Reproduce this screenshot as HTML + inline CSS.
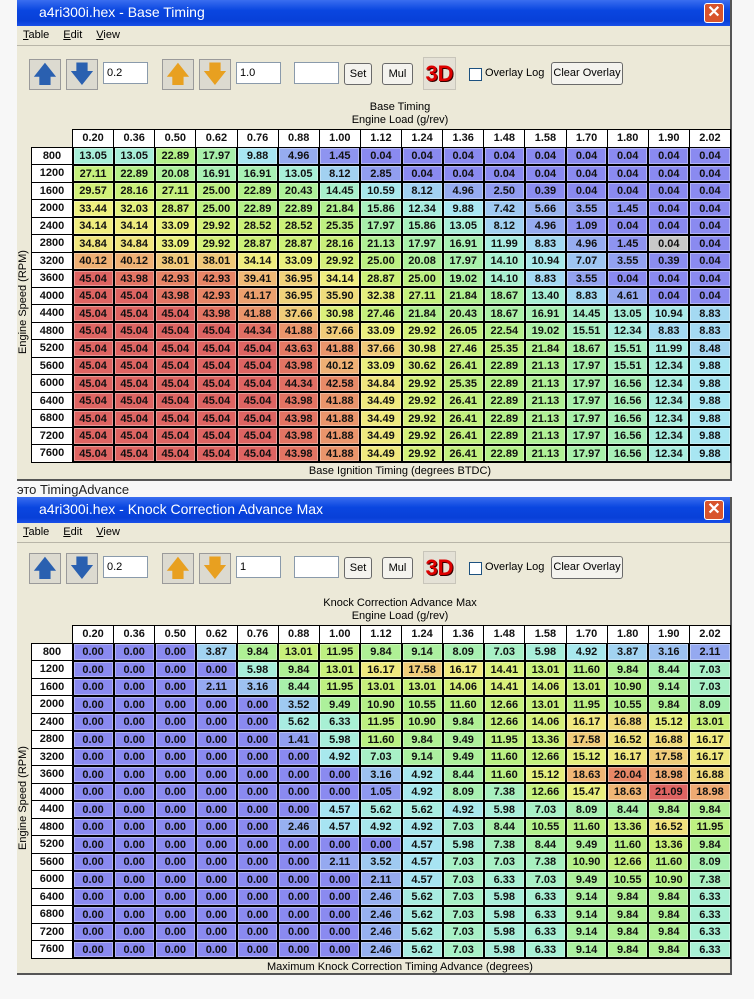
<!DOCTYPE html>
<html><head><meta charset="utf-8">
<style>
*{margin:0;padding:0;box-sizing:border-box}
body{width:754px;height:999px;background:#f7f7f7;position:relative;overflow:hidden;font-family:"Liberation Sans",Tahoma,sans-serif}
.win{position:absolute;left:17px;width:715px;background:#ece9d8;border-right:2px solid #555;border-bottom:2px solid #555}
.title{position:absolute;left:0;top:0;width:100%;height:26px;background:linear-gradient(#3a6ef0,#0a46e0 40%,#0840d8 80%,#1a50e8);color:#fff;font-size:14px;padding:4px 0 0 22px}
.close{position:absolute;right:6px;top:3px;width:20px;height:20px;border:1px solid #fff;border-radius:3px;background:#d8542c;color:#fff;font-size:16px;line-height:17px;text-align:center;font-weight:bold}
.menu{position:absolute;left:0;top:26px;width:100%;height:20px;border-bottom:1px solid #b8b5a8;font-size:11px;padding:3px 0 0 6px}
.menu span{margin-right:14px}
.a{position:absolute;width:32px;height:31px;border:1px solid #9a9a9a;background:#dcdad0;font-size:24px;text-align:center;line-height:29px}
.inp{position:absolute;width:45px;height:22px;background:#fff;border:1px solid #8a9aab;font-size:11px;padding:4px 3px}
.btn{position:absolute;height:22px;border:1px solid #6a6a6a;border-radius:3px;background:#f4f3ee;font-size:11px;text-align:center;line-height:20px}
.t3d{position:absolute;width:33px;height:33px;background:#e4e1d6;border:1px solid #c8c5ba;color:#d00;font-weight:bold;font-size:22px;text-align:center;line-height:32px;text-shadow:1px 1px 0 #300}
.lbl{position:absolute;font-size:11px;color:#000;white-space:nowrap}
.c{position:absolute;border:1px solid #000;font-weight:bold;font-size:11px;text-align:center;color:#111;line-height:15px}
.vl{position:absolute;font-size:11px;transform:rotate(-90deg);transform-origin:center;white-space:nowrap}
</style></head><body>
<div class="win" style="top:0;height:481px">
 <div class="title">a4ri300i.hex - Base Timing<div class="close">✕</div></div>
 <div class="menu"><span><u>T</u>able</span><span><u>E</u>dit</span><span><u>V</u>iew</span></div>
</div>
<div class="lbl" style="left:17px;top:482px;font-size:13px;color:#222">это TimingAdvance</div>
<div class="win" style="top:497px;height:478px">
 <div class="title">a4ri300i.hex - Knock Correction Advance Max<div class="close">✕</div></div>
 <div class="menu"><span><u>T</u>able</span><span><u>E</u>dit</span><span><u>V</u>iew</span></div>
</div>
<div id="root"></div>
<script>
const cols=["0.20","0.36","0.50","0.62","0.76","0.88","1.00","1.12","1.24","1.36","1.48","1.58","1.70","1.80","1.90","2.02"];
const rpm=[800,1200,1600,2000,2400,2800,3200,3600,4000,4400,4800,5200,5600,6000,6400,6800,7200,7600];
const r64="45.04 45.04 45.04 45.04 45.04 43.98 41.88 34.49 29.92 26.41 22.89 21.13 17.97 16.56 12.34 9.88";
const t1=["13.05 13.05 22.89 17.97 9.88 4.96 1.45 0.04 0.04 0.04 0.04 0.04 0.04 0.04 0.04 0.04",
"27.11 22.89 20.08 16.91 16.91 13.05 8.12 2.85 0.04 0.04 0.04 0.04 0.04 0.04 0.04 0.04",
"29.57 28.16 27.11 25.00 22.89 20.43 14.45 10.59 8.12 4.96 2.50 0.39 0.04 0.04 0.04 0.04",
"33.44 32.03 28.87 25.00 22.89 22.89 21.84 15.86 12.34 9.88 7.42 5.66 3.55 1.45 0.04 0.04",
"34.14 34.14 33.09 29.92 28.52 28.52 25.35 17.97 15.86 13.05 8.12 4.96 1.09 0.04 0.04 0.04",
"34.84 34.84 33.09 29.92 28.87 28.87 28.16 21.13 17.97 16.91 11.99 8.83 4.96 1.45 0.04 0.04",
"40.12 40.12 38.01 38.01 34.14 33.09 29.92 25.00 20.08 17.97 14.10 10.94 7.07 3.55 0.39 0.04",
"45.04 43.98 42.93 42.93 39.41 36.95 34.14 28.87 25.00 19.02 14.10 8.83 3.55 0.04 0.04 0.04",
"45.04 45.04 43.98 42.93 41.17 36.95 35.90 32.38 27.11 21.84 18.67 13.40 8.83 4.61 0.04 0.04",
"45.04 45.04 45.04 43.98 41.88 37.66 30.98 27.46 21.84 20.43 18.67 16.91 14.45 13.05 10.94 8.83",
"45.04 45.04 45.04 45.04 44.34 41.88 37.66 33.09 29.92 26.05 22.54 19.02 15.51 12.34 8.83 8.83",
"45.04 45.04 45.04 45.04 45.04 43.63 41.88 37.66 30.98 27.46 25.35 21.84 18.67 15.51 11.99 8.48",
"45.04 45.04 45.04 45.04 45.04 43.98 40.12 33.09 30.62 26.41 22.89 21.13 17.97 15.51 12.34 9.88",
"45.04 45.04 45.04 45.04 45.04 44.34 42.58 34.84 29.92 25.35 22.89 21.13 17.97 16.56 12.34 9.88",
r64,r64,r64,r64];
const z="0.00 0.00 0.00 0.00 0.00 0.00 ";
const r2="0.00 2.46 5.62 7.03 5.98 6.33 9.14 9.84 9.84 6.33";
const t2=["0.00 0.00 0.00 3.87 9.84 13.01 11.95 9.84 9.14 8.09 7.03 5.98 4.92 3.87 3.16 2.11",
"0.00 0.00 0.00 0.00 5.98 9.84 13.01 16.17 17.58 16.17 14.41 13.01 11.60 9.84 8.44 7.03",
"0.00 0.00 0.00 2.11 3.16 8.44 11.95 13.01 13.01 14.06 14.41 14.06 13.01 10.90 9.14 7.03",
"0.00 0.00 0.00 0.00 0.00 3.52 9.49 10.90 10.55 11.60 12.66 13.01 11.95 10.55 9.84 8.09",
"0.00 0.00 0.00 0.00 0.00 5.62 6.33 11.95 10.90 9.84 12.66 14.06 16.17 16.88 15.12 13.01",
"0.00 0.00 0.00 0.00 0.00 1.41 5.98 11.60 9.84 9.49 11.95 13.36 17.58 16.52 16.88 16.17",
z+"4.92 7.03 9.14 9.49 11.60 12.66 15.12 16.17 17.58 16.17",
z+"0.00 3.16 4.92 8.44 11.60 15.12 18.63 20.04 18.98 16.88",
z+"0.00 1.05 4.92 8.09 7.38 12.66 15.47 18.63 21.09 18.98",
z+"4.57 5.62 5.62 4.92 5.98 7.03 8.09 8.44 9.84 9.84",
"0.00 0.00 0.00 0.00 0.00 2.46 4.57 4.92 4.92 7.03 8.44 10.55 11.60 13.36 16.52 11.95",
z+"0.00 0.00 4.57 5.98 7.38 8.44 9.49 11.60 13.36 9.84",
z+"2.11 3.52 4.57 7.03 7.03 7.38 10.90 12.66 11.60 8.09",
z+"0.00 2.11 4.57 7.03 6.33 7.03 9.49 10.55 10.90 7.38",
z+r2,z+r2,z+r2,z+r2];
const stops=[[0,[138,138,240]],[0.11,[150,172,240]],[0.22,[168,230,242]],[0.3,[168,240,212]],[0.4,[168,240,170]],[0.51,[180,240,136]],[0.64,[204,240,120]],[0.75,[240,240,128]],[0.88,[240,184,118]],[0.96,[230,128,100]],[1,[222,100,98]]];
function col(t){for(let i=1;i<stops.length;i++){if(t<=stops[i][0]){const a=stops[i-1],b=stops[i],f=(t-a[0])/(b[0]-a[0]);return `rgb(${a[1].map((v,k)=>Math.round(v+(b[1][k]-v)*f)).join(",")})`;}}return "rgb(222,100,98)";}
let h="";
function tb(oy,data,max,cap,foot){
 const W=41.125,H=17.5,x0=72,L=31;
 h+=`<div class="lbl" style="left:0;width:800px;text-align:center;top:${oy-28}px">${cap}</div>`;
 h+=`<div class="lbl" style="left:0;width:800px;text-align:center;top:${oy-15}px">Engine Load (g/rev)</div>`;
 h+=`<div style="position:absolute;left:${x0}px;top:${oy}px;width:${16*W+1}px;height:${H+1}px;background:#000"></div>`;
 h+=`<div style="position:absolute;left:${L}px;top:${oy+H}px;width:${x0-L+16*W+1}px;height:${18*H+1}px;background:#000"></div>`;
 cols.forEach((c,i)=>{h+=`<div class="c" style="left:${x0+i*W+1}px;top:${oy+1}px;width:${W-1}px;height:${H-1}px;background:#fff;border-color:#fff">${c}</div>`});
 rpm.forEach((r,j)=>{const y=oy+H*(j+1);
  h+=`<div class="c" style="left:${L+1}px;top:${y+1}px;width:${x0-L-1}px;height:${H-1}px;background:#fff;border-color:#fff">${r}</div>`;
  data[j].split(" ").forEach((v,i)=>{let bg=col(parseFloat(v)/max);if(max>40&&j==5&&i==14)bg="#c8c8c8";
   h+=`<div class="c" style="left:${x0+i*W+1.5}px;top:${y+1.5}px;width:${W-2}px;height:${H-2}px;background:${bg};border-color:rgba(255,255,255,.35)">${v}</div>`;});
 });
 h+=`<div class="vl" style="left:-32px;top:${oy+H*10-8}px;width:110px;text-align:center">Engine Speed (RPM)</div>`;
 h+=`<div class="lbl" style="left:0;width:800px;text-align:center;top:${oy+19*H+3}px">${foot}</div>`;
}
function toolbar(y,v2){
 h+=`<div class="a" style="left:29px;top:${y}px;color:#2a60b0">🡅</div><div class="a" style="left:66px;top:${y}px;color:#2a60b0">🡇</div>`;
 h+=`<div class="inp" style="left:103px;top:${y+3}px">0.2</div>`;
 h+=`<div class="a" style="left:162px;top:${y}px;color:#e8a020">🡅</div><div class="a" style="left:199px;top:${y}px;color:#e8a020">🡇</div>`;
 h+=`<div class="inp" style="left:236px;top:${y+3}px">${v2}</div><div class="inp" style="left:294px;top:${y+3}px"></div>`;
 h+=`<div class="btn" style="left:344px;top:${y+4}px;width:28px">Set</div><div class="btn" style="left:382px;top:${y+4}px;width:31px">Mul</div>`;
 h+=`<div class="t3d" style="left:423px;top:${y-2}px">3D</div>`;
 h+=`<div style="position:absolute;left:469px;top:${y+9}px;width:13px;height:13px;background:#fff;border:1px solid #1c5180"></div><div class="lbl" style="left:485px;top:${y+8}px">Overlay Log</div>`;
 h+=`<div class="btn" style="left:551px;top:${y+3}px;width:72px;height:23px">Clear Overlay</div>`;
}
toolbar(59,"1.0");toolbar(553,"1");
tb(129,t1,45.04,"Base Timing","Base Ignition Timing (degrees BTDC)");
tb(625,t2,21.09,"Knock Correction Advance Max","Maximum Knock Correction Timing Advance (degrees)");
document.getElementById("root").innerHTML=h;
</script>
</body></html>
